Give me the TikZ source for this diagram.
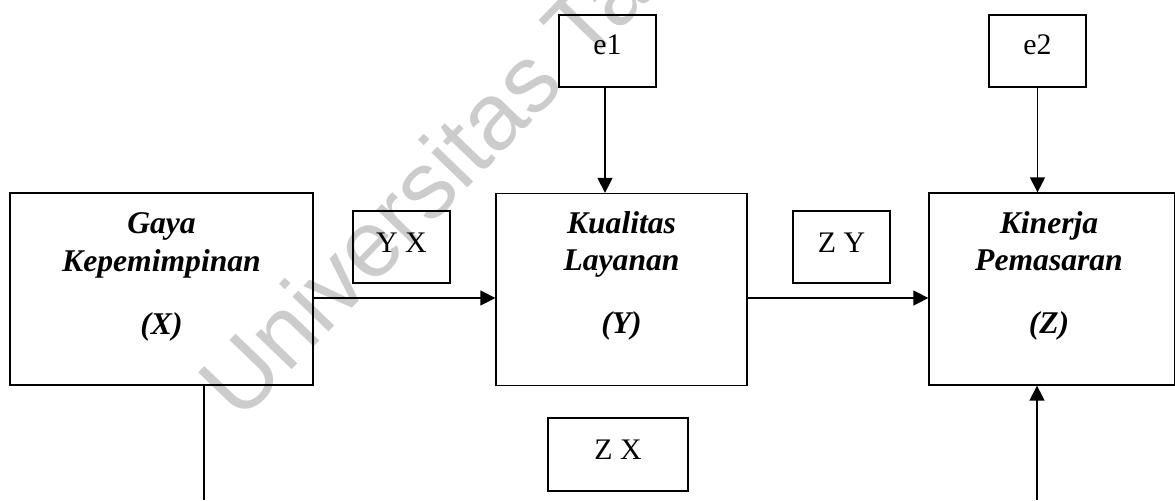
\documentclass[tikz,border=0pt]{standalone}
\usepackage{fontspec}
\setmainfont{Liberation Serif}
\newfontfamily\wmfont{Liberation Sans}
\usetikzlibrary{arrows.meta}
\begin{document}
\begin{tikzpicture}[x=0.02cm,y=-0.02cm,
  box/.style={draw, line width=0.75pt, rectangle, inner sep=0pt},
  big/.style={box, minimum height=3.84cm},
  small/.style={box, minimum width=1.94cm, minimum height=1.44cm,
    font=\fontsize{17}{20}\selectfont, text height=0.8cm, text depth=0.64cm},
  title/.style={anchor=base, inner sep=0pt, font=\fontsize{18}{21}\selectfont\bfseries\itshape},
  arr/.style={line width=0.75pt, -{Triangle[length=8.5pt,width=8.5pt]}},
  ln/.style={line width=0.75pt}]
\useasboundingbox (0,0) rectangle (1175,500);
% watermark (behind the diagram)
\begin{scope}
\clip (0,0) rectangle (1175,500);
\node[rotate=46, anchor=base west, inner sep=0pt, text=gray!40,
  font=\wmfont\fontsize{54}{60}\selectfont] (wm) at (240,424) {Universitas Tarumanagara};
\end{scope}
% main boxes
\node[big, minimum width=6.06cm] (X) at (161.5,289) {};
\node[big, minimum width=5.02cm] (Y) at (621.5,289.5) {};
\node[big, minimum width=4.91cm] (Z) at (1051.75,289) {};
% box texts
\node[title] (xa) at (161.5,233) {Gaya};
\node[title] (xb) at (161.5,271) {Kepemimpinan};
\node[title] (xc) at (161.5,334) {(X)};
\node[title] (ya) at (621.5,233) {Kualitas};
\node[title] (yb) at (621.5,270) {Layanan};
\node[title] (yc) at (621.5,333) {(Y)};
\node[title] (za) at (1049,233) {Kinerja};
\node[title] (zb2) at (1049,270) {Pemasaran};
\node[title] (zc) at (1049,333) {(Z)};
% small boxes
\node[small] (e1) at (607.5,51) {e1};
\node[small] (e2) at (1037.5,51) {e2};
\node[small, text height=0.82cm, text depth=0.62cm] (yx) at (401.5,247) {Y X};
\node[small, text height=0.82cm, text depth=0.62cm] (zy) at (841.5,247) {Z Y};
\node[small, minimum width=2.8cm, minimum height=1.46cm, text height=0.82cm, text depth=0.64cm] (zx) at (618,454.5) {Z X};
% connectors
\coordinate (hy) at (0,298);
\draw[arr] (X.east |- hy) -- (Y.west |- hy);
\draw[arr] (Y.east |- hy) -- (Z.west |- hy);
\coordinate (v1) at (605,0);
\draw[arr] (e1.south -| v1) -- (Y.north -| v1);
\draw[arr] (e2.south) -- (Z.north -| e2.south);
\coordinate (xbot) at (204,500);
\draw[ln] (X.south -| xbot) -- (xbot);
\coordinate (zbot) at (1037,500);
\draw[arr] (zbot) -- (Z.south -| zbot);
\end{tikzpicture}
\end{document}
